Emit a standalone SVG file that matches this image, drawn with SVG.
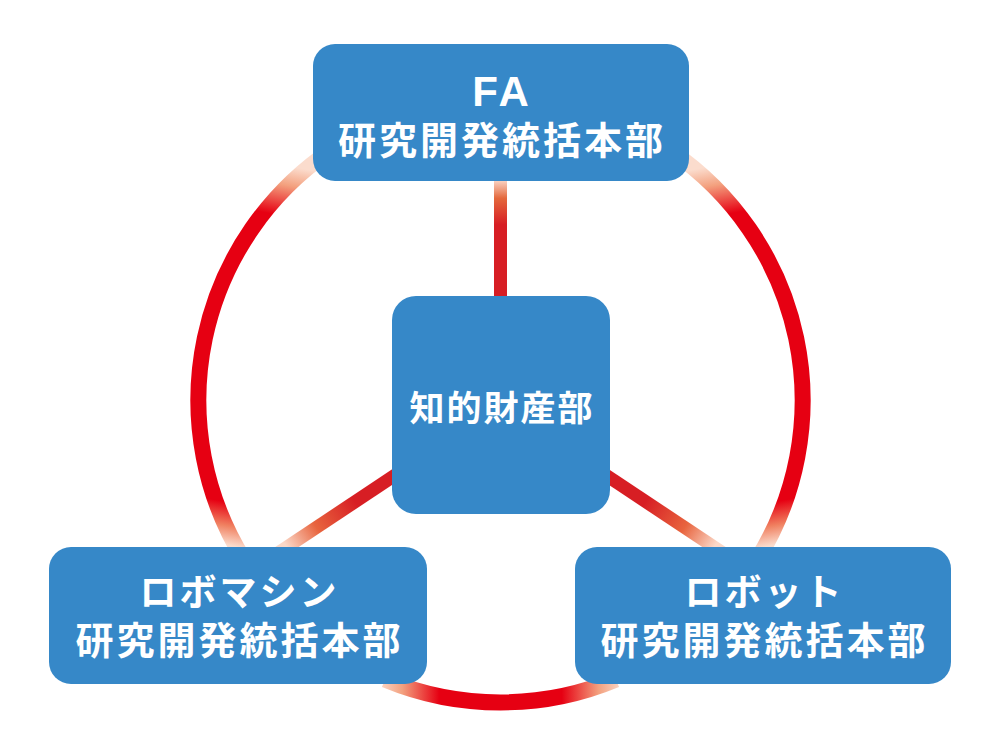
<svg xmlns="http://www.w3.org/2000/svg" width="1000" height="748" viewBox="0 0 1000 748">
  <style>
    .box { fill: #3688c8; }
    .t { fill: #ffffff; font-family: "Noto Sans CJK JP", "Noto Sans", sans-serif; font-weight: bold; text-anchor: middle; }
    .lat { fill: #ffffff; font-family: "Liberation Sans", Arial, sans-serif; font-weight: bold; text-anchor: middle; }
    .ring { fill: none; stroke-width: 16; }
    .spoke { fill: none; stroke-width: 13; }
  </style>
  <defs>
    <linearGradient id="gArcL" gradientUnits="userSpaceOnUse" x1="309" y1="170" x2="238" y2="547">
      <stop offset="0" stop-color="#fbdccd"/>
      <stop offset="0.05" stop-color="#f3a07e"/>
      <stop offset="0.13" stop-color="#e60012"/>
      <stop offset="0.89" stop-color="#e60012"/>
      <stop offset="0.95" stop-color="#f08060"/>
      <stop offset="1" stop-color="#fbdccd"/>
    </linearGradient>
    <linearGradient id="gArcR" gradientUnits="userSpaceOnUse" x1="692" y1="170" x2="763" y2="547">
      <stop offset="0" stop-color="#fbdccd"/>
      <stop offset="0.05" stop-color="#f3a07e"/>
      <stop offset="0.13" stop-color="#e60012"/>
      <stop offset="0.89" stop-color="#e60012"/>
      <stop offset="0.95" stop-color="#f08060"/>
      <stop offset="1" stop-color="#fbdccd"/>
    </linearGradient>
    <linearGradient id="gArcB" gradientUnits="userSpaceOnUse" x1="378" y1="690" x2="623" y2="690">
      <stop offset="0" stop-color="#fbdccd"/>
      <stop offset="0.1" stop-color="#f3a07e"/>
      <stop offset="0.25" stop-color="#e60012"/>
      <stop offset="0.75" stop-color="#e60012"/>
      <stop offset="0.9" stop-color="#f3a07e"/>
      <stop offset="1" stop-color="#fbdccd"/>
    </linearGradient>
    <linearGradient id="gV" gradientUnits="userSpaceOnUse" x1="500.5" y1="181" x2="500.5" y2="296">
      <stop offset="0" stop-color="#f9d0bf"/>
      <stop offset="0.15" stop-color="#e4683c"/>
      <stop offset="0.38" stop-color="#d71e24"/>
      <stop offset="1" stop-color="#d71e24"/>
    </linearGradient>
    <linearGradient id="gDL" gradientUnits="userSpaceOnUse" x1="392" y1="477" x2="287" y2="547">
      <stop offset="0" stop-color="#d71e24"/>
      <stop offset="0.35" stop-color="#d71e24"/>
      <stop offset="0.72" stop-color="#e8643e"/>
      <stop offset="1" stop-color="#fbd8c8"/>
    </linearGradient>
    <linearGradient id="gDR" gradientUnits="userSpaceOnUse" x1="609" y1="477" x2="714" y2="547">
      <stop offset="0" stop-color="#d71e24"/>
      <stop offset="0.35" stop-color="#d71e24"/>
      <stop offset="0.72" stop-color="#e8643e"/>
      <stop offset="1" stop-color="#fbd8c8"/>
    </linearGradient>
  </defs>

  <g id="connectors">
    <path class="ring" stroke="url(#gArcL)" d="M 330 151 A 302 302 0 0 0 244 560"/>
    <path class="ring" stroke="url(#gArcR)" d="M 671 151 A 302 302 0 0 1 757 560"/>
    <path class="ring" stroke="url(#gArcB)" d="M 385 679.5 A 302 302 0 0 0 616 679.5"/>
    <line class="spoke" stroke="url(#gV)" x1="500.5" y1="170" x2="500.5" y2="310"/>
    <line class="spoke" stroke="url(#gDL)" x1="500.5" y1="405" x2="277" y2="553.7"/>
    <line class="spoke" stroke="url(#gDR)" x1="500.5" y1="405" x2="724" y2="553.7"/>
  </g>

  <g id="node-fa">
    <rect class="box" x="313" y="44" width="376" height="137" rx="22"/>
    <text class="lat" x="502" y="106" font-size="42" letter-spacing="3">FA</text>
    <text class="t" x="502" y="154" font-size="38" letter-spacing="3">研究開発統括本部</text>
  </g>

  <g id="node-ip">
    <rect class="box" x="392" y="296" width="218" height="218" rx="24"/>
    <text class="t" x="502" y="421" font-size="35" letter-spacing="2">知的財産部</text>
  </g>

  <g id="node-robomachine">
    <rect class="box" x="49" y="547" width="378" height="137" rx="22"/>
    <text class="t" x="239.5" y="606" font-size="37" letter-spacing="3">ロボマシン</text>
    <text class="t" x="239.5" y="654" font-size="38" letter-spacing="3">研究開発統括本部</text>
  </g>

  <g id="node-robot">
    <rect class="box" x="575" y="547" width="376" height="137" rx="22"/>
    <text class="t" x="764.5" y="606" font-size="37" letter-spacing="3">ロボット</text>
    <text class="t" x="764.5" y="654" font-size="38" letter-spacing="3">研究開発統括本部</text>
  </g>
</svg>
